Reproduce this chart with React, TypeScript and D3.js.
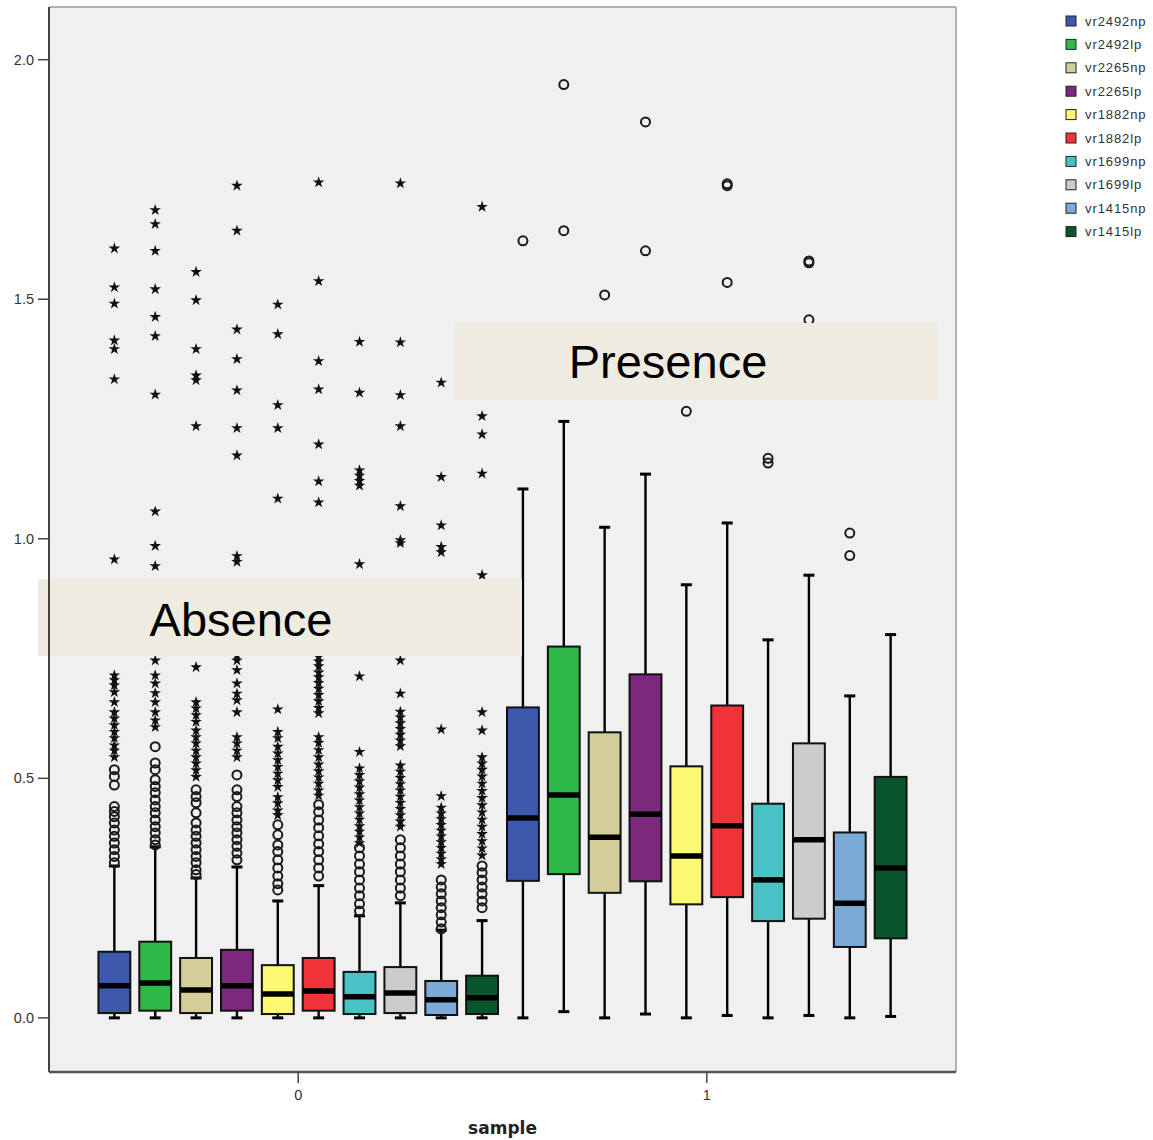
import React from "react";
import * as d3 from "d3";

const groups = ["0", "1"];
const seriesNames = [
  "vr2492np", "vr2492lp", "vr2265np", "vr2265lp", "vr1882np",
  "vr1882lp", "vr1699np", "vr1699lp", "vr1415np", "vr1415lp",
];
const seriesColors = [
  "#3e58ac", "#2eb848", "#d3ce97", "#7c287d", "#fbf873",
  "#ef3338", "#48c2c5", "#cccccc", "#7aaad5", "#0a562c",
];
const yTicks = [0, 0.5, 1.0, 1.5, 2.0];

// sample = 0 (absence)
const absWhiskerLo = [0, 0, 0, 0, 0, 0, 0, 0, 0, 0];
const absQ1 = [0.010, 0.015, 0.010, 0.015, 0.008, 0.015, 0.008, 0.010, 0.006, 0.008];
const absMedian = [0.067, 0.073, 0.058, 0.067, 0.050, 0.056, 0.044, 0.052, 0.038, 0.042];
const absQ3 = [0.138, 0.159, 0.125, 0.142, 0.110, 0.125, 0.096, 0.106, 0.077, 0.088];
const absWhiskerHi = [0.317, 0.357, 0.292, 0.315, 0.244, 0.276, 0.213, 0.240, 0.183, 0.203];

const absMild = [
  [0.518, 0.504, 0.486, 0.441, 0.431, 0.420, 0.407, 0.392, 0.379, 0.365, 0.351, 0.337, 0.324],
  [0.566, 0.532, 0.518, 0.497, 0.483, 0.470, 0.455, 0.441, 0.428, 0.413, 0.399, 0.386, 0.372, 0.361],
  [0.476, 0.462, 0.449, 0.428, 0.407, 0.392, 0.379, 0.365, 0.351, 0.337, 0.324, 0.309, 0.299],
  [0.507, 0.476, 0.462, 0.441, 0.428, 0.413, 0.399, 0.386, 0.372, 0.358, 0.344, 0.330],
  [0.403, 0.382, 0.361, 0.347, 0.330, 0.313, 0.296, 0.280, 0.267],
  [0.445, 0.430, 0.413, 0.397, 0.380, 0.363, 0.347, 0.330, 0.313, 0.296],
  [0.355, 0.338, 0.321, 0.305, 0.288, 0.271, 0.255, 0.238, 0.223],
  [0.372, 0.355, 0.338, 0.321, 0.305, 0.288, 0.271, 0.255],
  [0.288, 0.273, 0.259, 0.244, 0.230, 0.215, 0.200, 0.186],
  [0.317, 0.303, 0.288, 0.273, 0.259, 0.244, 0.230],
];

const absExtreme = [
  [1.607, 1.526, 1.492, 1.415, 1.397, 1.334, 0.958, 0.716, 0.706, 0.695, 0.681, 0.660, 0.639, 0.626, 0.612, 0.598, 0.585, 0.570, 0.559, 0.545],
  [1.687, 1.658, 1.602, 1.522, 1.464, 1.424, 1.302, 1.058, 0.986, 0.944, 0.747, 0.716, 0.699, 0.679, 0.660, 0.639, 0.622, 0.608],
  [1.558, 1.499, 1.397, 1.342, 1.332, 1.236, 0.733, 0.660, 0.647, 0.633, 0.619, 0.601, 0.587, 0.574, 0.559, 0.545, 0.532, 0.518, 0.504],
  [1.738, 1.644, 1.438, 1.376, 1.311, 1.232, 1.175, 0.965, 0.953, 0.758, 0.747, 0.727, 0.699, 0.678, 0.664, 0.639, 0.587, 0.574, 0.559, 0.545],
  [1.490, 1.428, 1.280, 1.232, 1.085, 0.645, 0.598, 0.585, 0.567, 0.553, 0.539, 0.525, 0.511, 0.497, 0.483, 0.462, 0.449, 0.434, 0.424],
  [1.745, 1.539, 1.372, 1.313, 1.198, 1.121, 1.077, 0.755, 0.745, 0.735, 0.722, 0.712, 0.700, 0.688, 0.675, 0.662, 0.648, 0.637, 0.587, 0.575, 0.560, 0.545, 0.530, 0.516, 0.503, 0.490, 0.476, 0.465],
  [1.412, 1.306, 1.144, 1.133, 1.122, 1.112, 0.948, 0.714, 0.556, 0.522, 0.508, 0.495, 0.482, 0.468, 0.455, 0.441, 0.428, 0.415, 0.401, 0.390, 0.378, 0.366],
  [1.743, 1.411, 1.301, 1.236, 1.069, 0.998, 0.992, 0.747, 0.678, 0.640, 0.628, 0.616, 0.604, 0.592, 0.580, 0.568, 0.528, 0.515, 0.502, 0.489, 0.476, 0.463, 0.450, 0.437, 0.424, 0.411, 0.400],
  [1.327, 1.130, 1.029, 0.984, 0.973, 0.603, 0.464, 0.440, 0.428, 0.416, 0.404, 0.392, 0.380, 0.368, 0.356, 0.344, 0.332, 0.322],
  [1.694, 1.257, 1.219, 1.137, 0.925, 0.639, 0.601, 0.545, 0.532, 0.519, 0.505, 0.490, 0.475, 0.460, 0.445, 0.430, 0.415, 0.400, 0.385, 0.370, 0.355, 0.340],
];

// sample = 1 (presence)
const preWhiskerLo = [0, 0.013, 0, 0.008, 0, 0.005, 0, 0.005, 0, 0.003];
const preQ1 = [0.286, 0.300, 0.261, 0.285, 0.237, 0.252, 0.202, 0.207, 0.148, 0.166];
const preMedian = [0.417, 0.465, 0.377, 0.425, 0.338, 0.401, 0.288, 0.372, 0.239, 0.313];
const preQ3 = [0.648, 0.775, 0.596, 0.717, 0.525, 0.652, 0.447, 0.573, 0.387, 0.503];
const preWhiskerHi = [1.104, 1.245, 1.024, 1.135, 0.904, 1.033, 0.789, 0.924, 0.672, 0.800];
const preMild = [
  [1.622], [1.948, 1.643], [1.509], [1.870, 1.601], [1.266],
  [1.741, 1.737, 1.535], [1.168, 1.158], [1.580, 1.576, 1.457], [1.012, 0.965], [],
];
const preExtreme = [[], [], [], [], [], [], [], [], [], []];

const W = 1153;
const H = 1140;
const plot = { left: 49, top: 7, right: 956, bottom: 1072 };

type Box = {
  g: string; i: number; lo: number; q1: number; med: number; q3: number; hi: number;
  mild: number[]; extreme: number[];
};

const boxes: Box[] = [
  ...seriesNames.map((_, i) => ({
    g: "0", i, lo: absWhiskerLo[i], q1: absQ1[i], med: absMedian[i], q3: absQ3[i],
    hi: absWhiskerHi[i], mild: absMild[i], extreme: absExtreme[i],
  })),
  ...seriesNames.map((_, i) => ({
    g: "1", i, lo: preWhiskerLo[i], q1: preQ1[i], med: preMedian[i], q3: preQ3[i],
    hi: preWhiskerHi[i], mild: preMild[i], extreme: preExtreme[i],
  })),
];

export default function App() {
  const x = d3.scaleBand().domain(groups).range([plot.left, plot.right]).paddingOuter(0.11).paddingInner(0);
  const xi = d3.scaleBand().domain(seriesNames).range([0, x.bandwidth()]).paddingInner(0.22).paddingOuter(0.11);
  const y = d3.scaleLinear().domain([-0.113, 2.11]).range([plot.bottom, plot.top]);
  const star = d3.symbol().type(d3.symbolStar).size(42)() as string;
  const bw = xi.bandwidth();
  const font = "'Liberation Sans', Arial, sans-serif";

  return (
    <svg width={W} height={H} style={{ position: "absolute", left: 0, top: 0, background: "#fff" }}>
      <rect x={plot.left} y={plot.top} width={plot.right - plot.left} height={plot.bottom - plot.top} fill="#f0f0f0" />
      <line x1={plot.left} x2={plot.right} y1={plot.top} y2={plot.top} stroke="#9a9a9a" strokeWidth={1.5} />
      <line x1={plot.right} x2={plot.right} y1={plot.top} y2={plot.bottom} stroke="#9a9a9a" strokeWidth={1.5} />

      {boxes.map((b) => {
        const cx = (x(b.g) as number) + (xi(seriesNames[b.i]) as number) + bw / 2;
        const x0 = cx - bw / 2;
        return (
          <g key={b.g + b.i}>
            <line x1={cx} x2={cx} y1={y(b.q3)} y2={y(b.hi)} stroke="#000" strokeWidth={2.4} />
            <line x1={cx} x2={cx} y1={y(b.q1)} y2={y(b.lo)} stroke="#000" strokeWidth={2.4} />
            <line x1={cx - 5.5} x2={cx + 5.5} y1={y(b.hi)} y2={y(b.hi)} stroke="#000" strokeWidth={3} />
            <line x1={cx - 5.5} x2={cx + 5.5} y1={y(b.lo)} y2={y(b.lo)} stroke="#000" strokeWidth={3} />
            <rect x={x0} y={y(b.q3)} width={bw} height={y(b.q1) - y(b.q3)} fill={seriesColors[b.i]} stroke="#111" strokeWidth={2} />
            <line x1={x0} x2={x0 + bw} y1={y(b.med)} y2={y(b.med)} stroke="#000" strokeWidth={5.5} />
            {b.mild.map((v, k) => (
              <circle key={"m" + k} cx={cx} cy={y(v)} r={4.5} fill="none" stroke="#1a1a1a" strokeWidth={2} />
            ))}
            {b.extreme.map((v, k) => (
              <path key={"e" + k} d={star} transform={`translate(${cx},${y(v) + 0.5})`} fill="#111" />
            ))}
          </g>
        );
      })}

      <rect x={455} y={323} width={482} height={77} fill="#eeebe1" />
      <text x={668} y={378} fontFamily={font} fontSize={47} textAnchor="middle" fill="#000">Presence</text>
      <rect x={38} y={579} width={484} height={77} fill="#eeebe1" />
      <text x={241} y={636} fontFamily={font} fontSize={47} textAnchor="middle" fill="#000">Absence</text>

      {/* axes */}
      <line x1={plot.left} x2={plot.left} y1={plot.top} y2={plot.bottom} stroke="#444" strokeWidth={2} />
      <line x1={plot.left} x2={plot.right} y1={plot.bottom} y2={plot.bottom} stroke="#555" strokeWidth={2.5} />
      {yTicks.map((t) => (
        <g key={t} transform={`translate(0,${y(t)})`}>
          <line x1={38} x2={plot.left} stroke="#444" strokeWidth={1.5} />
          <text x={34} dy="0.35em" textAnchor="end" fontFamily={font} fontSize={14.5} fill="#333">{t.toFixed(1)}</text>
        </g>
      ))}
      {groups.map((g) => {
        const gx = (x(g) as number) + x.bandwidth() / 2;
        return (
          <g key={g} transform={`translate(${gx},0)`}>
            <line y1={plot.bottom} y2={plot.bottom + 11} stroke="#444" strokeWidth={1.5} />
            <text y={plot.bottom + 28} textAnchor="middle" fontFamily={font} fontSize={14.5} fill="#333">{g}</text>
          </g>
        );
      })}
      <text x={(plot.left + plot.right) / 2} y={1134} textAnchor="middle" fontFamily="'DejaVu Sans', sans-serif" fontWeight="bold" fontSize={17} fill="#222">sample</text>

      {/* legend */}
      {seriesNames.map((s, i) => (
        <g key={s} transform={`translate(1066,${21 + i * 23.4})`}>
          <rect x={0} y={-5} width={10} height={10} fill={seriesColors[i]} stroke="#222" strokeWidth={1} />
          <text x={19} dy="0.35em" fontFamily={font} fontSize={13} letterSpacing={0.9} fill="#333">{s}</text>
        </g>
      ))}
    </svg>
  );
}
